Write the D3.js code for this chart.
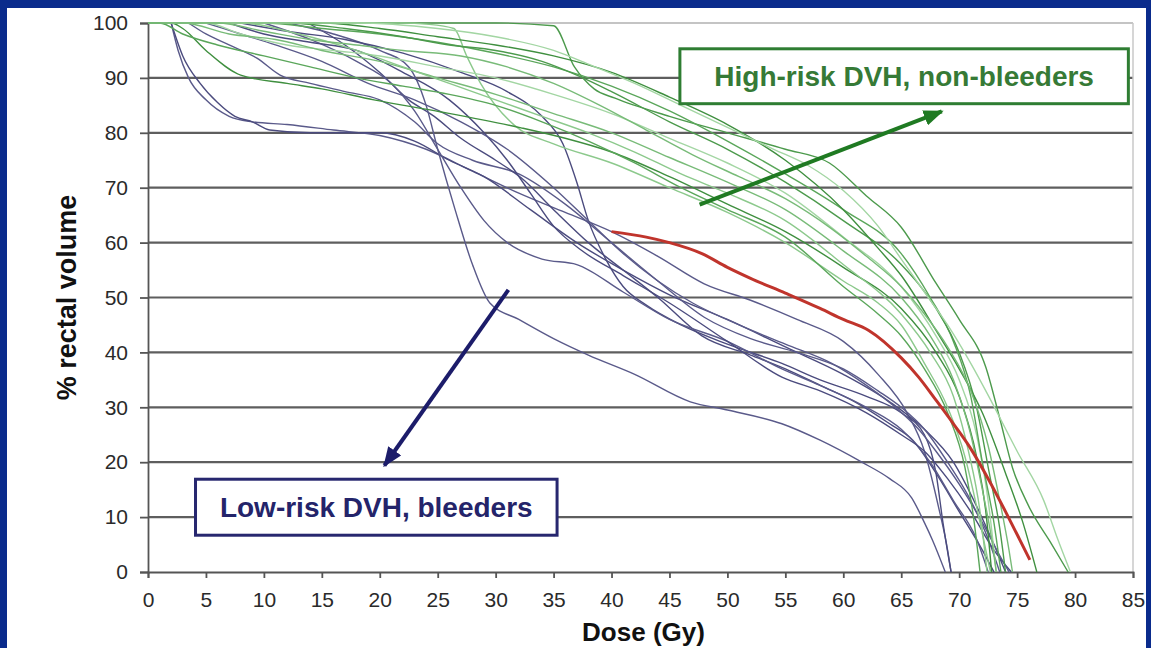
<!DOCTYPE html>
<html>
<head>
<meta charset="utf-8">
<script src="https://cdn.jsdelivr.net/npm/d3@7"></script>
<style>
  body { margin: 0; background: #0a2b8c; }
  svg { display: block; }
  text { font-family: "Liberation Sans", Arial, sans-serif; }
</style>
</head>
<body>
<svg width="1151" height="648"></svg>
<script>
// axis ticks
const doseTicks = d3.range(0, 90, 5);
const volumeTicks = d3.range(0, 110, 10);

// bleeders (low-risk DVH) - [dose Gy, % volume]
const bleeders = [
  [[2,100],[2.6,95],[3.5,90],[5,86],[7,83],[9,82],[12,81.5],[16,80.5],[20,79.5],[24,77],[28,73],[32,69],[36,65.5],[40,62],[44,57.5],[48,52.5],[52,49.5],[56,46],[60,42],[63,36],[65.5,29],[67,22],[68.2,12],[69,4],[69.3,0]],
  [[2,100],[3,94],[4.5,89],[6,85.5],[7.5,83],[9,82],[10.5,80.5],[14,80],[20,80],[23,78.5],[26,75],[29,72],[33,66],[37,60],[41,55],[45,50.5],[50,46],[55,41],[60,36],[64,31],[67,26],[69.5,20],[71.5,12],[73,5],[74,0]],
  [[3.5,100],[5,98],[7,96],[9.4,93.6],[11.4,90.5],[14,89],[17,87.5],[20,86],[23,82],[25,78],[28,75],[32,72.5],[36,67],[40,60],[44,53],[48,46.4],[52,42.5],[56,40],[60,37],[63,33],[65,30],[67,26],[69,20],[71,13],[72.5,6],[73.5,0]],
  [[13.8,100],[17,96],[20,91],[22.5,86],[24.7,83],[27,79],[30,75],[32.2,71.8],[35,66],[38,60],[41,55],[44,50],[47.8,43],[52,39.5],[55,37],[58,34],[61,31],[64,27],[66,24],[68,18],[70,11],[72,4],[73,0]],
  [[12,100],[16,98],[20,95],[22.5,92],[24,85],[25,77],[26.5,66],[28,56],[29.5,49],[32,46],[35,42.5],[38,39.5],[42,36],[46.8,31],[50,29.5],[54.7,27],[58,24],[61.6,20],[64,17],[65.9,13.5],[67,9],[67.7,5.8],[68.8,0]],
  [[8,100],[12,98.5],[17,97],[22,94.5],[27,91],[31,87.5],[34,83],[35.8,78],[37,71],[38,64],[39.5,57],[41,52],[43,48.6],[46,45],[50,41.5],[54.7,38],[58,35],[62,32],[65,29],[67,25],[68,18],[68.6,9],[69.3,0]],
  [[10,100],[14,97],[18,93],[21,89],[23,84],[25,77],[27,70],[29,64],[31,60],[34,57],[37,56],[41,51],[45,46],[50,42],[54.7,37],[58,34],[62,30],[65,26],[67.5,20],[69.5,13],[71.5,6],[72.5,0]],
  [[7,100],[10,98],[14,96.5],[18,95],[22,91],[26,86],[29,80],[31,75],[33,69],[35,63],[37.4,58.6],[41,54],[45,49],[50,42],[54.7,35.5],[58,33],[62,29],[65,25],[67,22],[69,17],[71,11],[73,4],[74.5,0]],
  [[5,100],[8,98],[11,96],[15,93],[19,89],[23,86],[27,82],[31,77],[35,70],[38,64],[41,58],[44,53],[47,49],[51,45],[55,41.5],[59,38],[62,34],[64.5,30],[66.5,26],[68,22],[70,16],[72,9],[73.5,3],[74.3,0]]
];

// non-bleeders (high-risk DVH)
const nonBleeders = [
  [[0,100],[30,100],[35,99.5],[36.8,92],[38.5,88],[40.3,86.3],[45,83],[50,80],[55,77],[58.8,74.5],[62,68.5],[65,62.8],[68,52.6],[70,46],[72.3,37.3],[73.5,28],[74.6,19],[76,12],[78,5],[79.4,0]],
  [[0,100],[22,100],[24,99.8],[26.4,99],[27.5,94],[28.7,89],[31.6,81.4],[35,78],[40,74.5],[45,70],[50,65.5],[55,60],[60,53],[63,49],[65,45],[67,38],[69,30],[70.5,21],[71.5,12],[72.3,4],[72.7,0]],
  [[0,100],[2,100],[3,99],[5,95],[8,90.5],[12,89],[15,88],[19.5,86],[25.3,83.8],[32.2,80.9],[36,79],[40,76.5],[45,72],[50,67],[55,62],[60,55.5],[65,48],[68,40],[70,32],[71.5,21],[72.3,11],[72.8,0]],
  [[0,100],[5,100],[8,98],[12,96],[16,95],[20,94],[25,92],[30,90],[35,87],[40,83.5],[45,79],[50,74.5],[55,69],[60,61],[65,52],[68,43],[70,35],[71.5,25],[72.5,13],[73.2,0]],
  [[0,100],[10,100],[15,99],[20,98],[25,96.5],[30,94.5],[35,92],[40,88.5],[45,84],[50,78.5],[55,72.5],[60,66],[65,58],[67.5,50],[69.5,42],[71,32],[72,20],[73,9],[73.6,0]],
  [[0,100],[3,100],[7,98],[11,97],[15,95],[20,93],[25,90],[30,87],[35,83.5],[40,80],[45,75.5],[50,71],[55,66],[60,58.5],[65,50],[67.5,43],[69.5,35],[71,25],[72,15],[72.8,6],[73.2,0]],
  [[0,100],[12,100],[17,99],[22,97.5],[26,96],[30,95],[34,93],[37,90.5],[40,87.5],[45,82],[50,77],[55,71],[60,64],[65,56],[68,48],[70,40],[71.5,30],[72.6,18],[73.5,8],[74,0]],
  [[0,100],[8,100],[13,98],[18,95],[22,92],[26,89],[30,86],[34,83],[38,80],[42,76.5],[46,72.5],[50,69],[55,64],[60,56],[65,47],[67.5,40],[69.5,32],[70.8,22],[71.8,11],[72.4,0]],
  [[0,100],[15,100],[20,99],[25,97.5],[30,96],[35,94],[40,91],[45,86.5],[50,81.5],[55,75],[60,66],[63,59],[65,54],[68,44],[70,37],[72,29],[74,18],[75.5,9],[76.7,0]],
  [[0,100],[18,100],[25,99],[30,97.5],[35,95],[38,92.5],[42,89],[46,85],[50,81],[54,77],[57,74],[60,69.5],[63,63],[65,57],[67,51],[69,45],[71,38],[72.8,31],[75,22],[77.3,13],[78.5,6],[79.6,0]],
  [[0,100],[1,100],[3,98],[6,96],[10,94],[14,92],[18,90],[22,88.5],[26,87],[30,85],[34,82],[38,78.5],[42,74.5],[46,70],[50,66],[55,61],[60,52],[63,47],[65,43],[67,37],[69,29],[70.5,19],[71.3,9],[71.8,0]],
  [[0,100],[6,100],[10,98.5],[14,97],[18,96],[22,95],[27,94],[31,92],[35,89],[39,85],[43,80.5],[47,76],[51,72],[55,68],[59,62.5],[62,57.5],[65,52],[67,47],[69,41],[71,33],[72.5,23],[73.5,13],[74.3,4],[74.6,0]]
];

// red reference DVH
const referenceCurve = [[40,62],[43,61],[45,60],[47.8,58],[50,55.5],[52,53.5],[55,50.8],[58,48],[60,46],[62.2,44],[65,39],[66.5,35.5],[68,31.3],[69.5,27],[70.9,22.8],[72.5,17],[74,11],[75.2,6],[76.1,2.2]];

// annotation labels and arrows (in data units)
const labels = [
  { text: "High-risk DVH, non-bleeders", x0: 45.9, x1: 84.6, y0: 95.3, y1: 85.3, color: "#2e7d32", textColor: "#367a36" },
  { text: "Low-risk DVH, bleeders", x0: 4.1, x1: 35.3, y0: 16.9, y1: 6.7, color: "#27276f", textColor: "#24246a" }
];
const arrows = [
  { from: [47.6, 66.9], to: [68.5, 83.9], color: "#1f7a22" },
  { from: [31.1, 51.4], to: [20.4, 19.4], color: "#1c1c6a" }
];

const W = 1151, H = 648;
const svg = d3.select("svg");

svg.append("rect").attr("x", 7).attr("y", 8).attr("width", W - 12).attr("height", H - 8).attr("fill", "#fff");

const x = d3.scaleLinear().domain([0, 85]).range([148, 1133]);
const y = d3.scaleLinear().domain([0, 100]).range([572, 23]);

// gridlines
svg.append("g")
  .selectAll("line")
  .data(volumeTicks.filter(d => d > 0))
  .enter()
  .append("line")
  .attr("x1", x(0)).attr("x2", x(85))
  .attr("y1", d => y(d)).attr("y2", d => y(d))
  .attr("stroke", d => d === 100 ? "#c4c4c4" : "#5e5e5e")
  .attr("stroke-width", d => d === 100 ? 2 : 2.2);

// right border
svg.append("line")
  .attr("x1", x(85)).attr("x2", x(85)).attr("y1", y(100)).attr("y2", y(0))
  .attr("stroke", "#c8c8c8").attr("stroke-width", 1.5);

// axes
const yAxis = svg.append("g")
  .attr("transform", `translate(${x(0)},0)`)
  .call(d3.axisLeft(y).tickValues(volumeTicks).tickSize(8).tickPadding(12));
const xAxis = svg.append("g")
  .attr("transform", `translate(0,${y(0)})`)
  .call(d3.axisBottom(x).tickValues(doseTicks).tickSize(6).tickPadding(14));

[yAxis, xAxis].forEach(g => {
  g.select(".domain").attr("stroke", "#555").attr("stroke-width", 1.8);
  g.selectAll(".tick line").attr("stroke", "#555").attr("stroke-width", 1.8);
  g.selectAll(".tick text")
    .attr("fill", "#2a2a2a")
    .style("font-size", "21px")
    .style("font-family", "'Liberation Sans', Arial, sans-serif");
});

// axis titles
svg.append("text")
  .attr("transform", `translate(76,${(y(0) + y(100)) / 2}) rotate(-90)`)
  .attr("text-anchor", "middle")
  .attr("fill", "#111")
  .style("font-size", "27px").style("font-weight", "bold")
  .text("% rectal volume");

svg.append("text")
  .attr("x", (x(0) + x(85)) / 2 + 3)
  .attr("y", 641)
  .attr("text-anchor", "middle")
  .attr("fill", "#111")
  .style("font-size", "26px").style("font-weight", "bold")
  .text("Dose (Gy)");

// curves
const line = d3.line()
  .x(d => x(d[0]))
  .y(d => y(d[1]))
  .curve(d3.curveMonotoneX);

svg.append("g")
  .selectAll("path")
  .data(bleeders)
  .enter()
  .append("path")
  .attr("d", line)
  .attr("fill", "none")
  .attr("stroke", (d, i) => i % 2 ? "#4b4b7e" : "#5a5a8a")
  .attr("stroke-width", 1.4);

const greens = ["#4c9a4c", "#8cc98c", "#3f8f3f", "#a3d6a3", "#5aa65a", "#78bb78"];
svg.append("g")
  .selectAll("path")
  .data(nonBleeders)
  .enter()
  .append("path")
  .attr("d", line)
  .attr("fill", "none")
  .attr("stroke", (d, i) => greens[i % greens.length])
  .attr("stroke-width", 1.4);

svg.append("path")
  .datum(referenceCurve)
  .attr("d", line)
  .attr("fill", "none")
  .attr("stroke", "#c0342c")
  .attr("stroke-width", 3);

// arrowheads
const defs = svg.append("defs");
arrows.forEach((a, i) => {
  defs.append("marker")
    .attr("id", "head" + i)
    .attr("viewBox", "0 0 20 16")
    .attr("markerUnits", "userSpaceOnUse")
    .attr("markerWidth", 20).attr("markerHeight", 16)
    .attr("refX", 18).attr("refY", 8)
    .attr("orient", "auto")
    .append("path")
    .attr("d", "M0,0 L20,8 L0,16 Z")
    .attr("fill", a.color);
});

svg.append("g")
  .selectAll("line")
  .data(arrows)
  .enter()
  .append("line")
  .attr("x1", d => x(d.from[0])).attr("y1", d => y(d.from[1]))
  .attr("x2", d => x(d.to[0])).attr("y2", d => y(d.to[1]))
  .attr("stroke", d => d.color)
  .attr("stroke-width", 4)
  .attr("marker-end", (d, i) => `url(#head${i})`);

// label boxes
const box = svg.append("g")
  .selectAll("g")
  .data(labels)
  .enter()
  .append("g");

box.append("rect")
  .attr("x", d => x(d.x0)).attr("y", d => y(d.y0))
  .attr("width", d => x(d.x1) - x(d.x0))
  .attr("height", d => y(d.y1) - y(d.y0))
  .attr("fill", "#fff")
  .attr("stroke", d => d.color)
  .attr("stroke-width", 3);

box.append("text")
  .attr("x", d => (x(d.x0) + x(d.x1)) / 2)
  .attr("y", d => (y(d.y0) + y(d.y1)) / 2)
  .attr("dy", "0.36em")
  .attr("text-anchor", "middle")
  .attr("fill", d => d.textColor)
  .style("font-size", "28px").style("font-weight", "bold")
  .text(d => d.text);
</script>
</body>
</html>
